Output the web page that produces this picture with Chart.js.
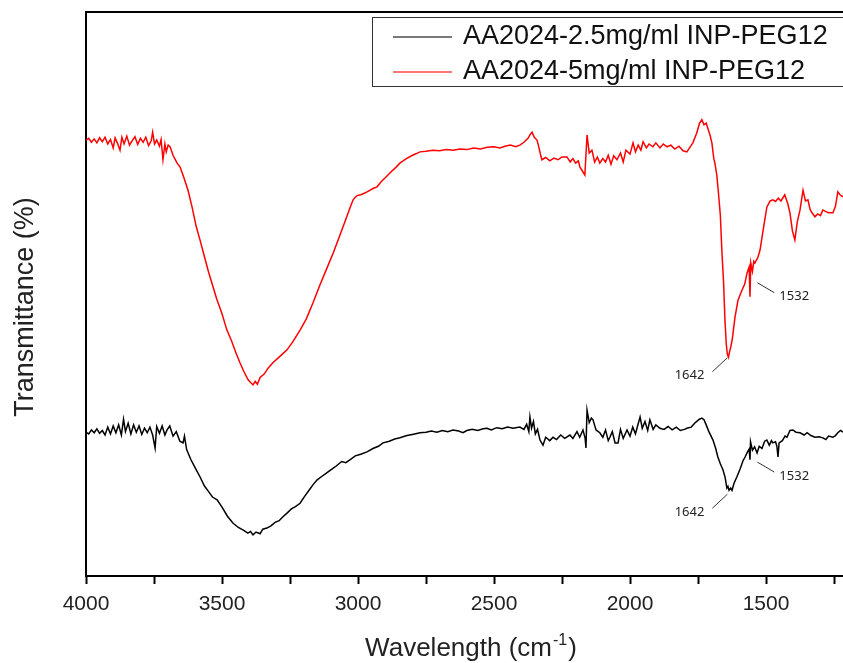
<!DOCTYPE html>
<html>
<head>
<meta charset="utf-8">
<script src="https://cdn.jsdelivr.net/npm/chart.js@4.4.1/dist/chart.umd.min.js"></script>
<style>
html, body { margin: 0; padding: 0; background: #fff; }
</style>
</head>
<body>
<canvas id="graficaFTIR" width="843" height="663"></canvas>
<script>
// Datos (numero de onda en cm-1, transmitancia en unidades relativas)
const serieNombres = ['AA2024-2.5mg/ml INP-PEG12', 'AA2024-5mg/ml INP-PEG12'];

const negroWn = [
    4000, 3990, 3980, 3970, 3960, 3950, 3940, 3930, 3920, 3910,
    3900, 3890, 3880, 3870, 3862, 3855, 3845, 3835, 3825, 3815,
    3805, 3795, 3785, 3775, 3765, 3755, 3746, 3740, 3730, 3720,
    3710, 3702, 3692, 3680, 3668, 3655, 3643, 3638, 3630, 3615,
    3600, 3581, 3565, 3550, 3535, 3518, 3500, 3480, 3460, 3440,
    3420, 3405, 3395, 3386, 3375, 3360, 3350, 3335, 3320, 3305,
    3290, 3276, 3260, 3245, 3230, 3213, 3195, 3180, 3165, 3151,
    3135, 3120, 3100, 3080, 3060, 3045, 3030, 3010, 2990, 2967,
    2945, 2925, 2908, 2885, 2865, 2846, 2820, 2800, 2772, 2750,
    2730, 2710, 2690, 2670, 2651, 2630, 2614, 2600, 2580, 2560,
    2540, 2526, 2510, 2490, 2470, 2450, 2430, 2405, 2390, 2380,
    2372, 2368, 2362, 2355, 2348, 2340, 2331, 2320, 2310, 2295,
    2283, 2270, 2255, 2240, 2221, 2210, 2195, 2185, 2173, 2165,
    2162, 2158, 2150, 2142, 2136, 2125, 2111, 2100, 2090, 2080,
    2074, 2065, 2055, 2044, 2035, 2025, 2011, 2000, 1990, 1980,
    1970, 1963, 1955, 1945, 1935, 1927, 1915, 1905, 1890, 1875,
    1860, 1845, 1830, 1815, 1800, 1791, 1775, 1760, 1745, 1736,
    1728, 1720, 1710, 1695, 1685, 1677, 1668, 1658, 1650, 1644,
    1640, 1636, 1630, 1625, 1618, 1607, 1595, 1585, 1577, 1568,
    1562, 1559, 1557, 1550, 1542, 1533, 1525, 1515, 1505, 1497,
    1488, 1480, 1475, 1465, 1460, 1456, 1452, 1440, 1430, 1423,
    1412, 1401, 1390, 1375, 1360, 1349, 1335, 1320, 1305, 1291,
    1280, 1270, 1254, 1245, 1236, 1226, 1217
];
const negroT = [
    25.5, 25.2, 25.9, 25.4, 26.1, 25.3, 25.8, 25.0, 26.4, 25.2,
    26.6, 25.4, 26.8, 25.0, 27.8, 25.6, 27.1, 25.2, 26.8, 25.5,
    26.6, 25.1, 26.2, 25.4, 26.4, 25.0, 22.7, 26.5, 25.3, 26.6,
    25.0, 25.9, 26.6, 24.8, 25.6, 23.9, 23.6, 24.8, 22.4, 20.7,
    19.3, 17.6, 16.0, 15.0, 14.0, 13.5, 12.2, 10.6, 9.4, 8.6,
    8.1, 7.6, 7.9, 7.3, 7.8, 7.5, 8.3, 8.5, 8.9, 9.5,
    9.8, 10.5, 11.2, 11.9, 12.3, 12.9, 14.2, 15.2, 16.2, 17.0,
    17.6, 18.1, 18.8, 19.5, 20.3, 20.1, 20.6, 21.3, 21.6, 22.0,
    22.6, 23.0, 23.6, 23.9, 24.3, 24.5, 24.9, 25.1, 25.4, 25.5,
    25.7, 25.5, 25.8, 25.6, 25.9, 25.7, 25.4, 25.8, 26.0, 25.8,
    26.1, 26.2, 25.9, 26.3, 26.1, 26.4, 26.2, 26.4, 26.0, 26.9,
    25.6, 28.2, 26.2, 27.4, 25.2, 26.0, 24.1, 23.2, 24.6, 24.0,
    24.6, 24.2, 25.0, 24.4, 25.0, 24.4, 25.6, 24.6, 25.9, 24.4,
    22.7, 29.4, 27.2, 28.0, 27.7, 25.9, 25.4, 24.6, 25.9, 24.0,
    24.6, 25.6, 23.6, 23.6, 26.0, 24.4, 25.9, 24.8, 26.4, 25.2,
    27.0, 28.2, 26.2, 27.4, 25.8, 27.7, 26.0, 26.8, 26.2, 26.0,
    26.5, 25.9, 26.4, 25.8, 26.0, 26.2, 26.4, 27.2, 27.8, 28.0,
    27.7, 26.8, 25.6, 24.1, 22.6, 21.1, 19.9, 18.8, 17.4, 15.6,
    15.9, 15.2, 15.6, 15.2, 16.4, 17.6, 19.0, 20.4, 21.1, 22.0,
    22.5, 20.6, 23.8, 22.3, 22.9, 21.8, 23.0, 22.6, 23.9, 24.1,
    23.2, 24.0, 23.6, 23.8, 23.0, 21.1, 23.6, 24.0, 24.8, 24.6,
    25.8, 25.9, 25.5, 25.4, 25.0, 25.4, 24.9, 24.6, 24.7, 24.5,
    24.2, 24.8, 24.6, 24.9, 25.4, 25.8, 25.5
];

const rojoWn = [
    4000, 3990, 3980, 3970, 3960, 3950, 3940, 3930, 3920, 3910,
    3900, 3893, 3885, 3875, 3868, 3860, 3850, 3840, 3830, 3820,
    3810, 3800, 3790, 3780, 3770, 3760, 3755, 3748, 3740, 3730,
    3724, 3717, 3710, 3705, 3698, 3691, 3680, 3665, 3654, 3640,
    3625, 3610, 3595, 3581, 3565, 3550, 3535, 3520, 3500, 3482,
    3465, 3450, 3434, 3420, 3404, 3395, 3386, 3378, 3370, 3360,
    3345, 3330, 3313, 3290, 3261, 3240, 3213, 3190, 3165, 3140,
    3115, 3090, 3066, 3045, 3030, 3018, 3005, 2990, 2975, 2960,
    2945, 2930, 2915, 2900, 2880, 2860, 2846, 2825, 2800, 2785,
    2772, 2750, 2725, 2700, 2675, 2650, 2625, 2600, 2575, 2550,
    2525, 2500, 2478, 2460, 2440, 2420, 2405, 2390, 2375, 2368,
    2360, 2352, 2342, 2335, 2328, 2324, 2310, 2295, 2280, 2265,
    2250, 2232, 2220, 2210, 2200, 2190, 2184, 2166, 2158, 2150,
    2140, 2130, 2120, 2111, 2100, 2090, 2080, 2070, 2060, 2048,
    2035, 2025, 2015, 2000, 1989, 1980, 1970, 1960, 1952, 1940,
    1930, 1916, 1905, 1890, 1878, 1864, 1850, 1835, 1820, 1805,
    1791, 1780, 1769, 1755, 1745, 1736, 1728, 1720, 1714, 1706,
    1699, 1692, 1688, 1681, 1675, 1668, 1662, 1656, 1651, 1646,
    1642, 1638, 1634, 1630, 1624, 1614, 1603, 1590, 1578, 1570,
    1562, 1559, 1556, 1550, 1545, 1541, 1530, 1522, 1510, 1497,
    1485, 1475, 1465, 1455, 1445, 1431, 1420, 1412, 1403, 1394,
    1385, 1375, 1364, 1355, 1346, 1338, 1331, 1320, 1310, 1300,
    1291, 1280, 1270, 1254, 1245, 1236, 1228, 1217
];
const rojoT = [
    77.3, 77.6, 76.9, 77.5, 76.8, 77.7, 77.0, 77.8, 76.6, 77.4,
    75.9, 77.7, 76.8, 75.5, 77.8, 76.6, 78.0, 76.4, 77.2, 77.9,
    76.5, 77.6, 76.9, 77.8, 76.3, 77.2, 78.7, 76.6, 77.3, 76.2,
    77.4, 73.8, 76.6, 75.2, 76.4, 76.1, 74.6, 73.2, 72.5, 70.6,
    68.4, 65.4, 62.0, 59.6, 56.7, 54.0, 51.6, 49.2, 46.5, 43.6,
    41.7, 39.7, 37.8, 36.3, 34.8, 34.3, 33.9, 34.5, 34.0, 35.2,
    35.8, 36.9, 37.8, 38.8, 40.1, 41.5, 43.6, 45.6, 48.5, 51.6,
    54.5, 57.4, 60.5, 63.2, 65.2, 66.7, 67.4, 67.6, 67.9, 68.3,
    68.7, 69.0, 69.9, 70.6, 71.6, 72.5, 73.2, 73.9, 74.6, 74.9,
    75.2, 75.3, 75.5, 75.4, 75.6, 75.5, 75.7, 75.6, 75.9, 75.7,
    76.0, 76.1, 75.9, 76.2, 76.4, 76.1, 76.4, 76.9, 77.6, 78.2,
    78.7, 77.8, 77.3, 76.0, 74.5, 73.8, 74.2, 73.6, 74.1, 73.8,
    74.3, 74.3, 73.4, 74.0, 73.2, 73.6, 72.5, 71.1, 78.2, 75.0,
    75.5, 73.4, 74.3, 73.2, 74.0, 73.4, 74.6, 73.0, 74.5, 73.8,
    75.0, 73.4, 75.5, 74.8, 76.8, 75.2, 76.4, 75.5, 77.0, 75.9,
    76.6, 76.1, 76.8, 75.9, 76.6, 76.1, 76.4, 75.7, 76.2, 75.4,
    75.2, 76.0, 76.8, 78.5, 80.2, 80.9, 80.0, 80.3, 79.4, 78.2,
    76.8, 74.0, 73.2, 71.1, 68.0, 64.0, 57.3, 52.0, 45.4, 41.0,
    39.3, 38.8, 39.8, 40.5, 42.0, 45.9, 48.9, 50.5, 51.8, 53.7,
    54.8, 49.5, 55.5, 54.0, 55.8, 55.5, 56.5, 57.8, 61.5, 65.4,
    66.5, 66.7, 66.4, 67.0, 66.5, 67.6, 66.0, 64.4, 61.2, 59.6,
    62.8, 64.9, 68.4, 66.5, 66.7, 65.0, 64.4, 63.7, 64.2, 63.9,
    64.9, 64.6, 64.4, 64.4, 65.5, 68.1, 67.6, 67.2
];

// Picos marcados (numero de onda, transmitancia del punto senalado)
const picosWn = [1642, 1532];
const picosNegroT = [14.5, 20.2];
const picosRojoT = [38.7, 52.0];

// Eje x: marcas cada 250, etiquetas solo en multiplos de 500
const xMin = 1217;
const xMax = 4000;
const xMarcas = [1250, 1500, 1750, 2000, 2250, 2500, 2750, 3000, 3250, 3500, 3750, 4000];
const xEtiquetas = [4000, 3500, 3000, 2500, 2000, 1500];

const FUENTE = '"Liberation Sans", Arial, sans-serif';

function armarPuntos(wn, t) {
    return wn.map((x, i) => ({ x: x, y: t[i] }));
}

// Dibuja marco superior, leyenda, anotaciones y titulos de ejes
const extrasPlugin = {
    id: 'extras',
    afterDraw(chart) {
        const ctx = chart.ctx;
        const area = chart.chartArea;
        const sx = chart.scales.x;
        const sy = chart.scales.y;
        ctx.save();

        // linea superior del marco
        ctx.strokeStyle = '#000';
        ctx.lineWidth = 2;
        ctx.beginPath();
        ctx.moveTo(area.left - 1, area.top);
        ctx.lineTo(chart.width, area.top);
        ctx.stroke();

        // anotaciones de picos
        const anotar = (wn, t) => {
            const px = sx.getPixelForValue(wn);
            const py = sy.getPixelForValue(t);
            const izquierda = wn > 1600;
            const dx = izquierda ? -15 : 17;
            const dy = izquierda ? 14 : 10;
            ctx.strokeStyle = '#333';
            ctx.lineWidth = 1;
            ctx.beginPath();
            ctx.moveTo(px, py);
            ctx.lineTo(px + dx, py + dy);
            ctx.stroke();
            ctx.fillStyle = '#222';
            ctx.font = '13px "Noto Sans", "Open Sans", sans-serif';
            ctx.textBaseline = 'middle';
            ctx.textAlign = izquierda ? 'right' : 'left';
            ctx.fillText(String(wn), px + (izquierda ? -23 : 22), py + (izquierda ? 18 : 14));
        };
        picosWn.forEach((wn, i) => {
            anotar(wn, picosRojoT[i]);
            anotar(wn, picosNegroT[i]);
        });

        // leyenda con recuadro
        ctx.strokeStyle = '#333';
        ctx.lineWidth = 1;
        ctx.strokeRect(372.5, 17.5, 500, 69);
        chart.data.datasets.forEach((ds, i) => {
            const yy = 37 + i * 35;
            ctx.strokeStyle = ds.borderColor;
            ctx.globalAlpha = 0.7;
            ctx.lineWidth = 1.5;
            ctx.beginPath();
            ctx.moveTo(393, yy);
            ctx.lineTo(452, yy);
            ctx.stroke();
            ctx.globalAlpha = 1;
            ctx.fillStyle = '#111';
            ctx.font = '27px ' + FUENTE;
            ctx.textAlign = 'left';
            ctx.textBaseline = 'middle';
            ctx.fillText(ds.label, 463, yy);
        });

        // titulo eje y
        ctx.fillStyle = '#222';
        ctx.font = '27px ' + FUENTE;
        ctx.textAlign = 'center';
        ctx.textBaseline = 'alphabetic';
        ctx.translate(33, 307);
        ctx.rotate(-Math.PI / 2);
        ctx.fillText('Transmittance (%)', 0, 0);
        ctx.setTransform(1, 0, 0, 1, 0, 0);

        // titulo eje x con superindice
        const base = 'Wavelength (cm';
        const sup = '-1';
        const fin = ')';
        ctx.font = '26px ' + FUENTE;
        const wBase = ctx.measureText(base).width;
        const wFin = ctx.measureText(fin).width;
        ctx.font = '16px ' + FUENTE;
        const wSup = ctx.measureText(sup).width;
        let tx = 471 - (wBase + wSup + wFin + 2) / 2;
        ctx.textAlign = 'left';
        ctx.font = '26px ' + FUENTE;
        ctx.fillText(base, tx, 656);
        tx += wBase + 1;
        ctx.font = '16px ' + FUENTE;
        ctx.fillText(sup, tx, 645);
        tx += wSup + 1;
        ctx.font = '26px ' + FUENTE;
        ctx.fillText(fin, tx, 656);

        ctx.restore();
    }
};

function graficarFTIR() {
    const ctx = document.getElementById('graficaFTIR').getContext('2d');
    new Chart(ctx, {
        type: 'line',
        data: {
            datasets: [{
                label: serieNombres[0],
                data: armarPuntos(negroWn, negroT),
                borderColor: '#000000',
                borderWidth: 1.5,
                pointRadius: 0,
                tension: 0,
                fill: false
            }, {
                label: serieNombres[1],
                data: armarPuntos(rojoWn, rojoT),
                borderColor: '#ff0000',
                borderWidth: 1.5,
                pointRadius: 0,
                tension: 0,
                fill: false
            }]
        },
        options: {
            responsive: false,
            animation: false,
            devicePixelRatio: 1,
            layout: { padding: { top: 12, left: 0, right: 0, bottom: 0 } },
            plugins: {
                legend: { display: false },
                tooltip: { enabled: false }
            },
            scales: {
                x: {
                    type: 'linear',
                    reverse: true,
                    min: xMin,
                    max: xMax,
                    afterBuildTicks: (scale) => {
                        scale.ticks = xMarcas.map(v => ({ value: v }));
                    },
                    afterFit: (scale) => { scale.height = 87; },
                    border: { display: true, color: '#000', width: 2 },
                    grid: {
                        drawOnChartArea: false,
                        drawTicks: true,
                        tickLength: 8,
                        tickColor: '#000',
                        tickWidth: 2
                    },
                    ticks: {
                        autoSkip: false,
                        maxRotation: 0,
                        minRotation: 0,
                        padding: 8,
                        color: '#222',
                        font: { family: FUENTE, size: 21 },
                        callback: (v) => (xEtiquetas.includes(Math.round(v)) ? String(Math.round(v)) : '')
                    }
                },
                y: {
                    min: 0,
                    max: 100,
                    afterFit: (scale) => { scale.width = 86; },
                    border: { display: true, color: '#000', width: 2 },
                    grid: { display: false, drawTicks: false },
                    ticks: { display: false }
                }
            }
        },
        plugins: [extrasPlugin]
    });
}

document.addEventListener('DOMContentLoaded', graficarFTIR);
</script>
</body>
</html>
